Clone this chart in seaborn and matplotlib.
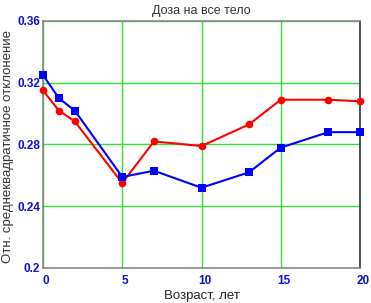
import matplotlib
matplotlib.use("Agg")
import matplotlib.pyplot as plt
import matplotlib.transforms as mtransforms
import seaborn as sns
import pandas as pd

age = [0, 1, 2, 5, 7, 10, 13, 15, 18, 20]
blue_vals = [0.325, 0.310, 0.302, 0.259, 0.263, 0.252, 0.262, 0.278, 0.288, 0.288]
red_vals = [0.315, 0.302, 0.295, 0.255, 0.282, 0.279, 0.293, 0.309, 0.309, 0.308]
xticks = [0, 5, 10, 15, 20]
yticks = [0.2, 0.24, 0.28, 0.32, 0.36]
ytick_labels = ["0.2", "0.24", "0.28", "0.32", "0.36"]

sns.set_style("white")
plt.rcParams['font.family'] = ['Liberation Sans', 'DejaVu Sans']

fig = plt.figure(figsize=(3.71, 3.03), dpi=100)
ax = fig.add_axes([43/371, 1-268/303, (360-43)/371, (268-21)/303])

df_red = pd.DataFrame({"age": age, "val": red_vals})
df_blue = pd.DataFrame({"age": age, "val": blue_vals})

sns.lineplot(data=df_red, x="age", y="val", ax=ax, color="#ff0000", marker="o",
             markersize=5.5, markeredgewidth=0, linewidth=1.5, zorder=3, clip_on=False)
sns.lineplot(data=df_blue, x="age", y="val", ax=ax, color="#0000ff", marker="s",
             markersize=6, markeredgewidth=0, linewidth=1.5, zorder=4, clip_on=False)

ax.set_xlim(0, 20)
ax.set_ylim(0.2, 0.36)
ax.set_xticks(xticks)
ax.set_yticks(yticks)
ax.set_yticklabels(ytick_labels)
ax.grid(True, color="#33e033", linewidth=1.0)
ax.set_axisbelow(True)
for s in ax.spines.values():
    s.set_color("#888888")
    s.set_linewidth(1.2)
ax.spines['right'].set_color("#333333")

ax.tick_params(axis="y", length=0, labelsize=8.5, labelcolor="#1010d0", pad=2)
ax.tick_params(axis="x", length=0, labelsize=8.5, labelcolor="#1010d0", pad=5)
shift = mtransforms.ScaledTranslation(3/100, 0, fig.dpi_scale_trans)
for lbl in ax.get_xticklabels():
    lbl.set_fontweight("bold")
    lbl.set_transform(lbl.get_transform() + shift)
for lbl in ax.get_yticklabels():
    lbl.set_fontweight("bold")

ax.set_title("Доза на все тело", fontsize=9, color="#333333", pad=5)
ax.set_xlabel("Возраст, лет", fontsize=9.5, color="#222222", labelpad=2)
ax.set_ylabel("Отн. среднеквадратичное отклонение", fontsize=9.5, color="#333333")
ax.yaxis.set_label_coords(-0.09, 0.49)

fig.savefig("out.png", dpi=100)
